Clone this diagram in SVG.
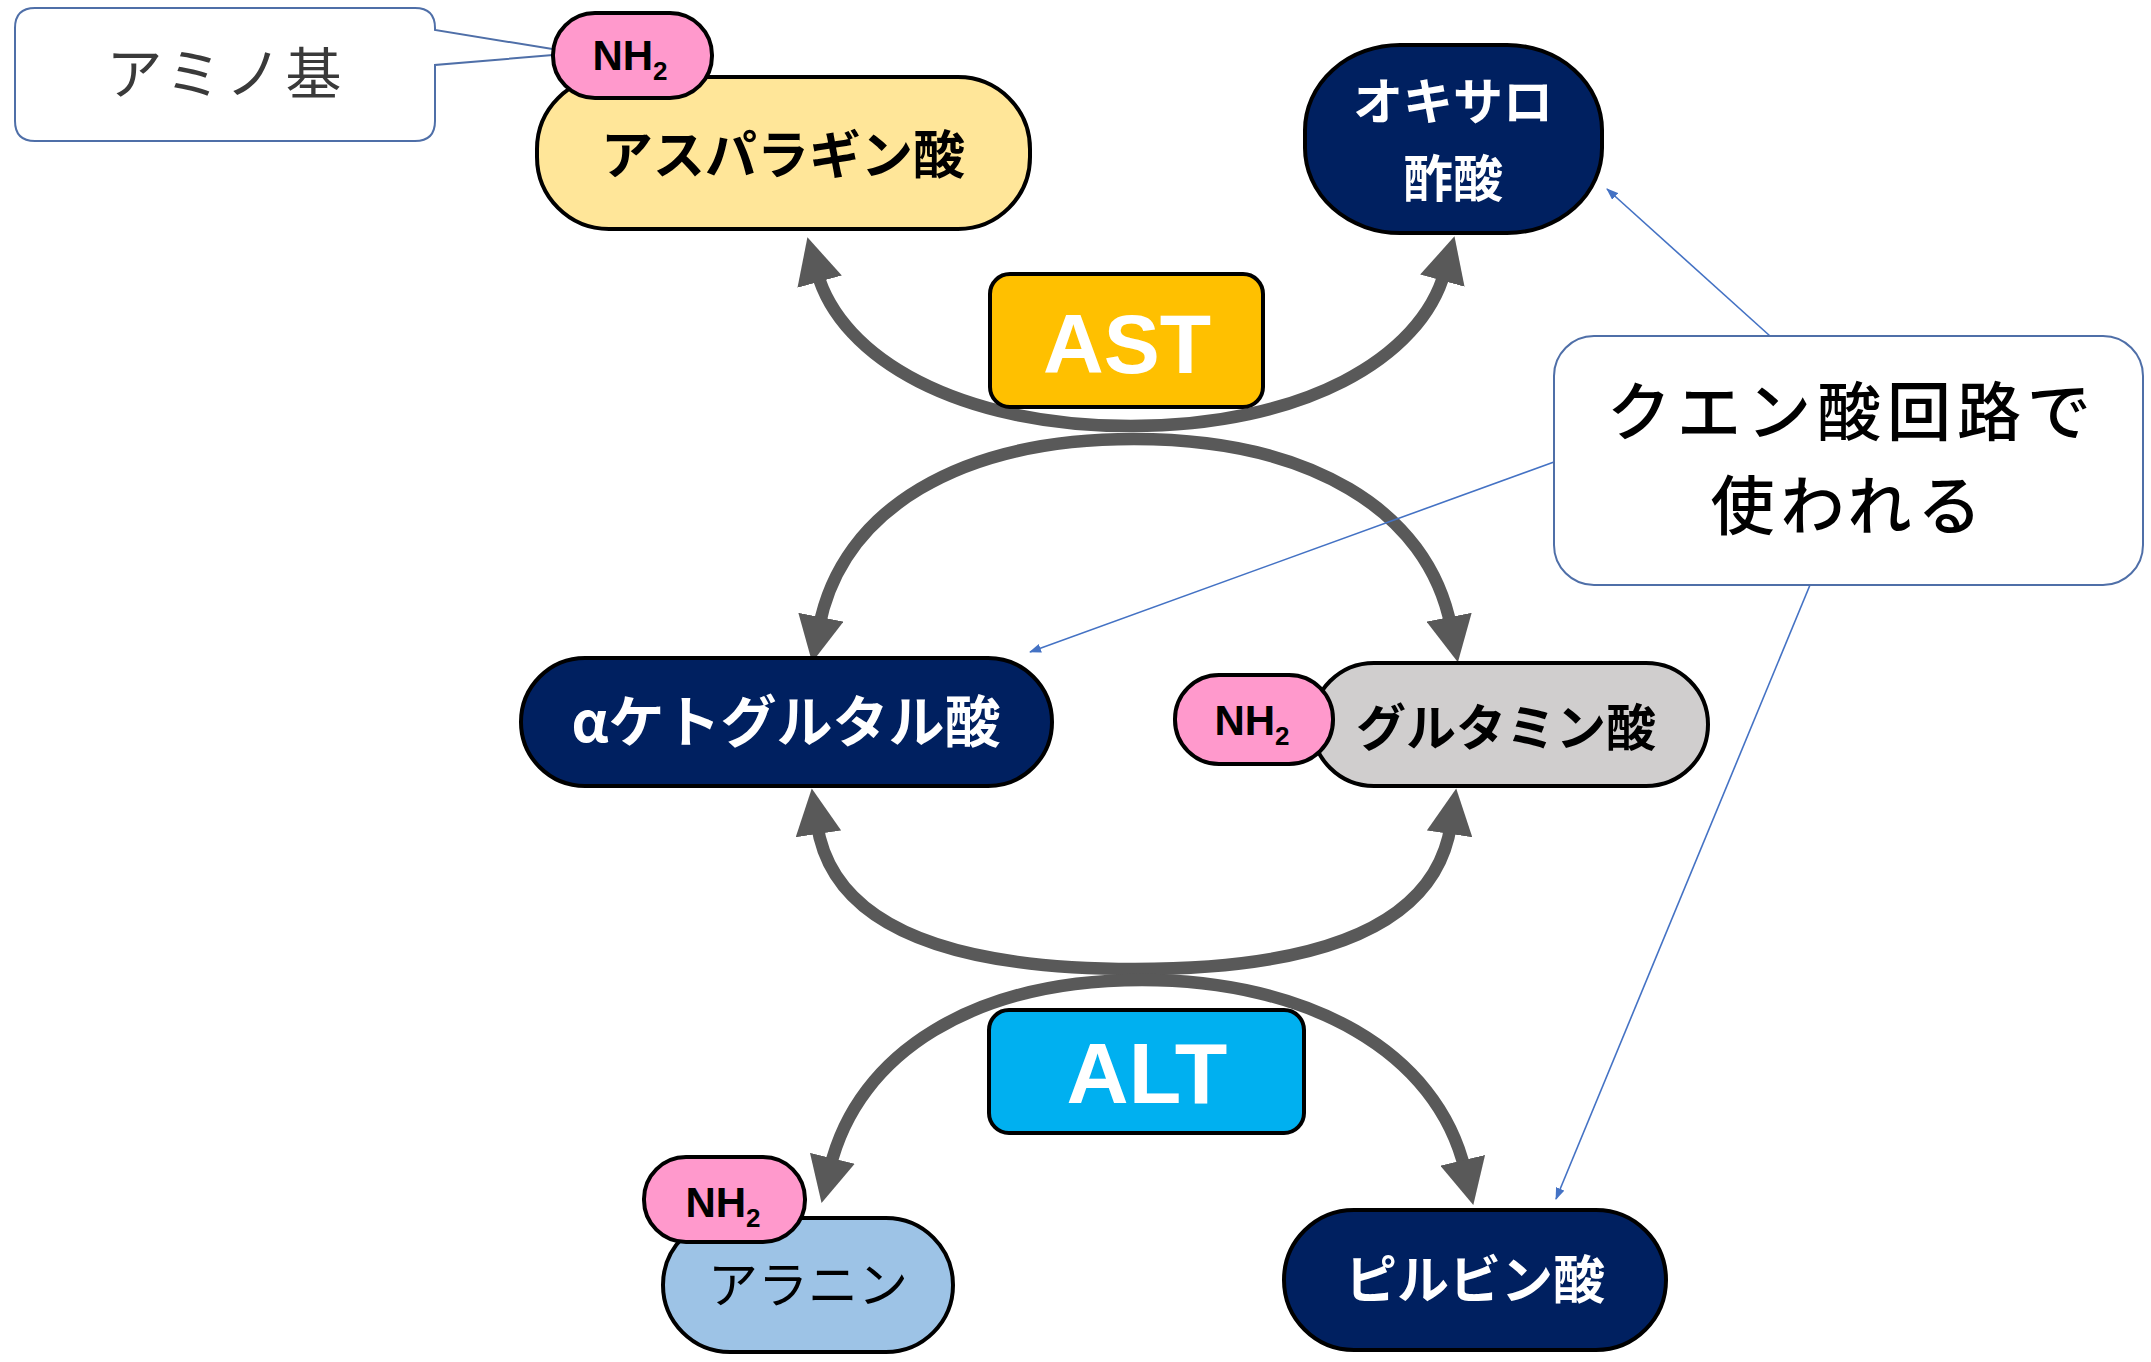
<svg xmlns="http://www.w3.org/2000/svg" width="2151" height="1362" viewBox="0 0 2151 1362">
  <defs>
    <style>
      .nd { stroke: #000; stroke-width: 4; }
      .pink { fill: #FF99CC; stroke: #000; stroke-width: 4; }
      .navy { fill: #002060; }
      .jp { font-family: "Noto Sans CJK JP", "Noto Sans", sans-serif; text-anchor: middle; }
      .jpb { font-family: "Noto Sans CJK JP", "Noto Sans", sans-serif; font-weight: bold; text-anchor: middle; }
      .lat { font-family: "Liberation Sans", Arial, sans-serif; font-weight: bold; text-anchor: middle; }
      .nh { font-family: "Liberation Sans", Arial, sans-serif; font-weight: bold; text-anchor: middle; font-size: 42px; fill: #000; }
      .arc { fill: none; stroke: #595959; stroke-width: 12.5; marker-start: url(#bigArrow); marker-end: url(#bigArrow); }
      .blue { fill: none; stroke: #4472C4; stroke-width: 1.6; marker-end: url(#smallArrow); }
      .callout { fill: #fff; stroke: #4F6FA8; stroke-width: 2; }
    </style>
    <marker id="bigArrow" markerUnits="userSpaceOnUse" viewBox="0 0 46 46" markerWidth="46" markerHeight="46" refX="10" refY="23" orient="auto-start-reverse">
      <path d="M0,0 L46,23 L0,46 Z" fill="#595959"/>
    </marker>
    <marker id="smallArrow" markerUnits="userSpaceOnUse" viewBox="0 0 12 9" markerWidth="12" markerHeight="9" refX="11" refY="4.5" orient="auto">
      <path d="M0,0 L12,4.5 L0,9 Z" fill="#4472C4"/>
    </marker>
  </defs>

  <rect width="2151" height="1362" fill="#fff"/>

  <g id="connectors">
    <!-- AST upper U: aspartate <-> oxaloacetate -->
    <path class="arc" d="M817 272 C841 359 960 426 1131 426 C1302 426 1421 359 1445 271"/>
    <!-- AST lower arch: alpha-ketoglutarate <-> glutamate -->
    <path class="arc" d="M819 627 C842 509 960 439 1134 439 C1308 439 1428 509 1451 627"/>
    <!-- ALT upper U: alpha-ketoglutarate <-> glutamate -->
    <path class="arc" d="M817 824 C833 933 965 969 1135 969 C1305 969 1435 933 1451 824"/>
    <!-- ALT lower arch: alanine <-> pyruvate -->
    <path class="arc" d="M830 1168 C858 1052 975 980 1142 980 C1309 980 1437 1052 1465 1170"/>
    <!-- blue callout pointers -->
    <path class="blue" d="M1770 336 L1607 189"/>
    <path class="blue" d="M1554 462 L1030 652"/>
    <path class="blue" d="M1810 585 L1556 1199"/>
  </g>

  <g id="callout-amino">
    <path class="callout" d="M35 8 H415 Q435 8 435 28 V30 L577 53 L435 65 V121 Q435 141 415 141 H35 Q15 141 15 121 V28 Q15 8 35 8 Z"/>
    <text class="jp" x="226" y="94" font-size="56" fill="#3a3a3a" letter-spacing="4">アミノ基</text>
  </g>

  <g id="node-aspartate">
    <rect class="nd" x="537" y="77" width="493" height="152" rx="72" ry="72" fill="#FFE699"/>
    <text class="jpb" x="783" y="174" font-size="52" fill="#000">アスパラギン酸</text>
  </g>
  <g id="nh2-aspartate">
    <rect class="pink" x="553" y="13" width="159" height="85" rx="42" ry="42"/>
    <text class="nh" x="630" y="70">NH<tspan font-size="26" dy="10">2</tspan></text>
  </g>

  <g id="node-oxaloacetate">
    <rect class="nd navy" x="1305" y="45" width="297" height="188" rx="95" ry="85"/>
    <text class="jpb" x="1453" y="120" font-size="50" fill="#fff">オキサロ</text>
    <text class="jpb" x="1453" y="197" font-size="50" fill="#fff">酢酸</text>
  </g>

  <g id="node-AST">
    <rect class="nd" x="990" y="274" width="273" height="133" rx="20" ry="20" fill="#FFC000"/>
    <text class="lat" x="1127" y="373" font-size="84" fill="#fff">AST</text>
  </g>

  <g id="callout-tca">
    <rect class="callout" x="1554" y="336" width="589" height="249" rx="40" ry="40"/>
    <text class="jp" x="1852" y="435" font-size="64" font-weight="500" letter-spacing="6" fill="#000">クエン酸回路で</text>
    <text class="jp" x="1849" y="529" font-size="64" font-weight="500" letter-spacing="6" fill="#000">使われる</text>
  </g>

  <g id="node-alpha-ketoglutarate">
    <rect class="nd navy" x="521" y="658" width="531" height="128" rx="64" ry="64"/>
    <text class="jpb" x="786" y="742" font-size="56" fill="#fff">αケトグルタル酸</text>
  </g>

  <g id="node-glutamate">
    <rect class="nd" x="1312" y="663" width="396" height="123" rx="62" ry="62" fill="#D0CECE"/>
    <text class="jpb" x="1506" y="746" font-size="50" fill="#000">グルタミン酸</text>
  </g>
  <g id="nh2-glutamate">
    <rect class="pink" x="1175" y="675" width="158" height="89" rx="44" ry="44"/>
    <text class="nh" x="1252" y="735">NH<tspan font-size="26" dy="10">2</tspan></text>
  </g>

  <g id="node-ALT">
    <rect class="nd" x="989" y="1010" width="315" height="123" rx="20" ry="20" fill="#00B0F0"/>
    <text class="lat" x="1147" y="1103" font-size="86" fill="#fff">ALT</text>
  </g>

  <g id="node-alanine">
    <rect class="nd" x="663" y="1218" width="290" height="134" rx="67" ry="67" fill="#9DC3E6"/>
    <text class="jp" x="808" y="1303" font-size="50" fill="#000">アラニン</text>
  </g>
  <g id="nh2-alanine">
    <rect class="pink" x="644" y="1157" width="161" height="85" rx="42" ry="42"/>
    <text class="nh" x="723" y="1217">NH<tspan font-size="26" dy="10">2</tspan></text>
  </g>

  <g id="node-pyruvate">
    <rect class="nd navy" x="1284" y="1210" width="382" height="140" rx="70" ry="70"/>
    <text class="jpb" x="1475" y="1299" font-size="52" fill="#fff">ピルビン酸</text>
  </g>
</svg>
